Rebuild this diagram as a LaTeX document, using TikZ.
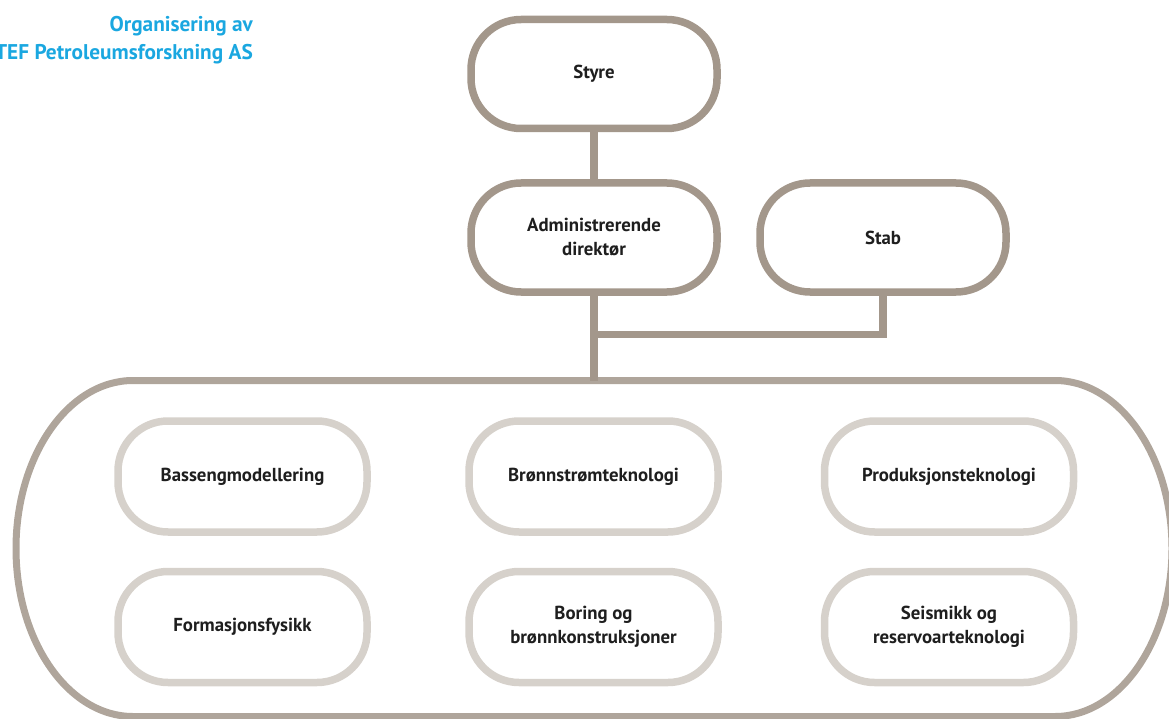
\documentclass[tikz,border=0pt]{standalone}
\usepackage{fontspec}
\newfontfamily\orgfamily{PT Sans}
\newcommand\orgboxfont{\orgfamily\bfseries\fontsize{18.8}{24}\selectfont}
\newcommand\orgheadfont{\orgfamily\bfseries\fontsize{21.3}{28.5}\selectfont}
\definecolor{boxline}{HTML}{A3978B}
\definecolor{outerline}{HTML}{AFA59B}
\definecolor{unitline}{HTML}{D6D1CB}
\definecolor{titleblue}{HTML}{1AA7E0}
\definecolor{labeltext}{HTML}{1E1E1E}
\begin{document}
\begin{tikzpicture}[x=1pt, y=-1pt,
  mainbox/.style={draw=boxline, line width=7.5pt, rounded corners=50pt,
    minimum width=246pt, minimum height=109pt, fill=white, align=center,
    font=\orgboxfont, text=labeltext, inner sep=0pt},
  unitbox/.style={mainbox, draw=unitline, minimum width=249pt, minimum height=111pt},
  link/.style={draw=boxline, line width=7.5pt},
  outer/.style={draw=outerline, line width=7pt}]
\useasboundingbox (0,0) rectangle (1169,719);
\clip (0,0) rectangle (1169,719);

% heading
\node[anchor=north east, align=right, font=\orgheadfont, text=titleblue,
  inner sep=0pt] (title) at (253,16) {Organisering av\\SINTEF Petroleumsforskning AS};

% enclosing frame for the research departments
\coordinate (ctop) at (594,380.5);
\draw[outer] (133,380.5) -- (1055,380.5)
  arc[start angle=-90, end angle=90, x radius=117, y radius=168]
  -- (133,716.5)
  arc[start angle=90, end angle=270, x radius=117, y radius=168] -- cycle;

% management
\node[mainbox] (styre) at (594,74) {Styre};
\node[mainbox] (adm) at (594,237.5) {Administrerende\\direktør};
\node[mainbox] (stab) at (883,237.5) {Stab};
\coordinate (branch) at (594,334.5);

\draw[link] (styre.south) -- (adm.north);
\draw[link] (adm.south) -- (ctop);
\draw[link] (stab.south) |- (branch);

% departments
\node[unitbox] (basseng) at (242.5,476.5) {Bassengmodellering};
\node[unitbox] (bronnstrom) at (593.5,476.5) {Brønnstrømteknologi};
\node[unitbox] (produksjon) at (949,476.5) {Produksjonsteknologi};
\node[unitbox] (formasjon) at (242.5,627) {Formasjonsfysikk};
\node[unitbox] (boring) at (593.5,627) {Boring og\\brønnkonstruksjoner};
\node[unitbox] (seismikk) at (949,627) {Seismikk og\\reservoarteknologi};
\end{tikzpicture}
\end{document}
